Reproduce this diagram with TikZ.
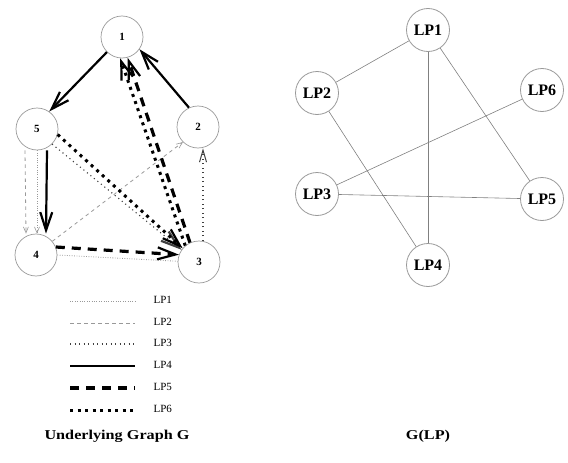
\documentclass[tikz,border=0pt]{standalone}
\usepackage{fontspec}
\setmainfont{Liberation Serif}
\usetikzlibrary{arrows.meta}
\begin{document}
\begin{tikzpicture}[x=1pt,y=-1pt,
  vtx/.style={circle,draw=black!40,line width=0.7pt,minimum size=42pt,inner sep=0pt,font=\bfseries\fontsize{11}{11}\selectfont},
  lpn/.style={circle,draw=black!40,line width=0.8pt,minimum size=43pt,inner sep=0pt,font=\bfseries\fontsize{16}{16}\selectfont},
  cedge/.style={black!50,line width=0.6pt},
  bigtip/.style={-{Straight Barb[length=18pt,width=12pt,line width=2.2pt]}},
  smalltip/.style={-{Straight Barb[length=6pt,width=5pt,line width=0.6pt]}},
  midtip/.style={-{Straight Barb[length=12pt,width=7pt,line width=1pt]}},
  lpone/.style={black!40,line width=0.8pt,dash pattern=on 0.8pt off 1.6pt},
  lptwo/.style={black!40,line width=0.8pt,dash pattern=on 3.5pt off 3.5pt},
  lpthree/.style={black!75,line width=1.1pt,dash pattern=on 1.1pt off 3.4pt},
  lpfour/.style={black,line width=2.2pt},
  lpfive/.style={black,line width=3.2pt,dash pattern=on 9pt off 7pt},
  lpsix/.style={black,line width=3pt,dash pattern=on 3pt off 4.5pt},
  legtxt/.style={anchor=west,font=\fontsize{11}{11}\selectfont},
  captxt/.style={font=\bfseries\fontsize{13.5}{13.5}\selectfont}
]
\useasboundingbox (0,0) rectangle (568,463);
% underlying graph G
\node[vtx] (n1) at (122,37) {1};
\node[vtx] (n5) at (37,129) {5};
\node[vtx] (n2) at (198,127) {2};
\node[vtx] (n4) at (36,255) {4};
\node[vtx] (n3) at (199,262) {3};

\draw[lptwo,smalltip] ([xshift=-12pt]n5.south) -- ([xshift=-10pt]n4.north);
\draw[lpone,smalltip] (n5.south) -- ([xshift=1pt]n4.north);
\draw[lpfour,bigtip] ([xshift=10pt]n5.south) -- ([xshift=10pt]n4.north);
\draw[lpfour,bigtip] (n1.-135) -- (n5.55);
\draw[lpfour,bigtip] (n2.115) -- (n1.-35);
\draw[lpone] (n4.0) -- (n3.178);
\draw[lpfive,bigtip] (n4.22) -- (n3.160);
\draw[lptwo,smalltip] (n4.40) -- (n2.225);
\draw[lpthree,bigtip] (n5.-45) -- (n3.145);
\draw[lpsix,bigtip] (n5.-15) -- (n3.140);
\draw[lpthree,midtip] ([xshift=4pt]n3.north) -- ([xshift=5pt]n2.south);
\draw[lpfive,bigtip] (n3.115) -- (n1.-75);
\draw[lpsix,bigtip] (n3.130) -- (n1.-95);

% legend
\node[legtxt] (l1) at (150,300) {LP1};
\node[legtxt] (l2) at (150,322) {LP2};
\node[legtxt] (l3) at (150,343) {LP3};
\node[legtxt] (l4) at (150,365) {LP4};
\node[legtxt] (l5) at (150,387) {LP5};
\node[legtxt] (l6) at (150,409) {LP6};
\draw[lpone] ([xshift=-80pt,yshift=-1pt]l1.west) -- ([xshift=-15pt,yshift=-1pt]l1.west);
\draw[lptwo] ([xshift=-80pt,yshift=-1pt]l2.west) -- ([xshift=-15pt,yshift=-1pt]l2.west);
\draw[lpthree] ([xshift=-80pt,yshift=-1pt]l3.west) -- ([xshift=-15pt,yshift=-1pt]l3.west);
\draw[lpfour] ([xshift=-80pt,yshift=-1pt]l4.west) -- ([xshift=-15pt,yshift=-1pt]l4.west);
\draw[lpfive] ([xshift=-80pt,yshift=-1pt]l5.west) -- ([xshift=-15pt,yshift=-1pt]l5.west);
\draw[lpsix] ([xshift=-80pt,yshift=-1pt]l6.west) -- ([xshift=-15pt,yshift=-1pt]l6.west);

\node[captxt] (c1) at (117,436) {\scalebox{1.2}[1]{Underlying Graph G}};
\node[captxt] (c2) at (428,436) {\scalebox{1.2}[1]{G(LP)}};

% conflict graph G(LP)
\node[lpn] (p1) at (428,30) {LP1};
\node[lpn] (p2) at (317,93) {LP2};
\node[lpn] (p6) at (542,90) {LP6};
\node[lpn] (p3) at (317,194) {LP3};
\node[lpn] (p5) at (542,199) {LP5};
\node[lpn] (p4) at (428,265) {LP4};
\draw[cedge] (p1) -- (p2);
\draw[cedge] (p1) -- (p4);
\draw[cedge] (p1) -- (p5);
\draw[cedge] (p2) -- (p4);
\draw[cedge] (p3) -- (p6);
\draw[cedge] (p3) -- (p5);
\end{tikzpicture}
\end{document}
